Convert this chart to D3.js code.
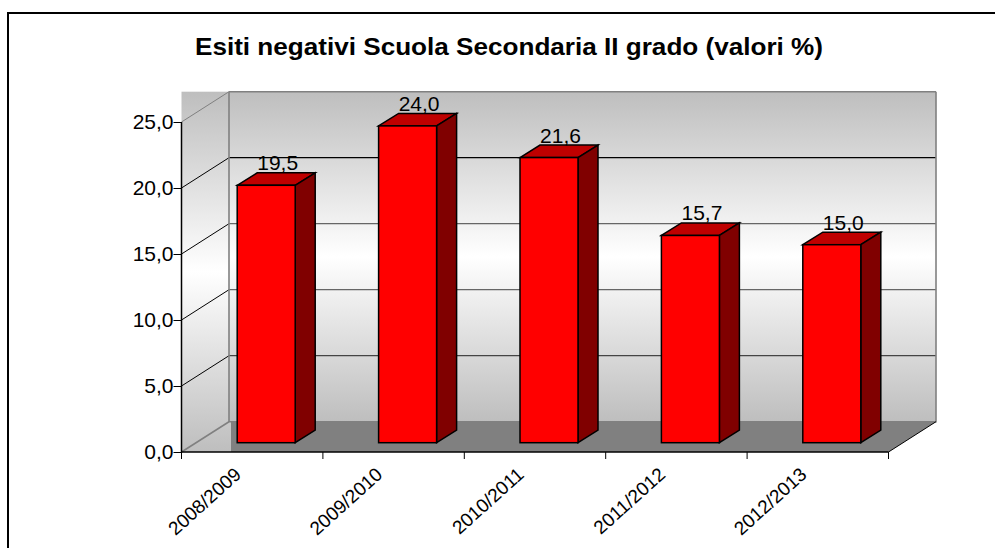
<!DOCTYPE html>
<html><head><meta charset="utf-8"><style>html,body{margin:0;background:#fff}svg{display:block}text{font-family:"Liberation Sans",Arial,sans-serif;fill:#000}</style>
<script src="https://cdn.jsdelivr.net/npm/d3@7"></script></head><body><script>
const title = "Esiti negativi Scuola Secondaria II grado (valori %)";
const categories = ["2008/2009","2009/2010","2010/2011","2011/2012","2012/2013"];
const values = [19.5,24.0,21.6,15.7,15.0];
const yTicks = [0,5,10,15,20,25];
const W=995,H=548;
const x0=181.5,x1=888.5,y0=452,y25=122,dx=47.5,dy=30.3;
const gridColor={5:"#444",10:"#666",15:"#666",20:"#000",25:"#808080"};
const fmt=v=>d3.format(".1f")(v).replace(".",",");
const svg=d3.select("body").append("svg").attr("width",W).attr("height",H);
const defs=svg.append("defs");
const grad=defs.append("linearGradient").attr("id","wall").attr("x1",0).attr("y1",0).attr("x2",0).attr("y2",1);
[[0,"#bebebe"],[.5,"#ffffff"],[1,"#bebebe"]].forEach(s=>grad.append("stop").attr("offset",s[0]).attr("stop-color",s[1]));
const x=d3.scaleBand().domain(categories).range([x0,x1]);
const y=d3.scaleLinear().domain([0,25]).range([y0,y25]);
svg.append("path").attr("d",`M8,${H}V13H${W}`).attr("fill","none").attr("stroke","#000").attr("stroke-width",2);
svg.append("text").attr("x",509).attr("y",55).attr("text-anchor","middle").attr("font-weight","bold").attr("font-size",24).attr("textLength",628).attr("lengthAdjust","spacingAndGlyphs").text(title);
// walls
svg.append("rect").attr("x",x0).attr("y",y(25)-dy).attr("width",dx+2).attr("height",y0-y(25)+dy).attr("fill","url(#wall)");
svg.append("rect").attr("x",x0+dx).attr("y",y(25)-dy).attr("width",x1-x0).attr("height",y0-y(25)).attr("fill","url(#wall)");
// floor
svg.append("path").attr("d",`M${x0+dx+2},${y0}V${y0-dy}H${x1+dx}L${x1},${y0}Z`).attr("fill","#808080");
// gridlines
yTicks.slice(1).forEach(t=>{
 svg.append("path").attr("d",`M${x0},${y(t)}L${x0+dx},${y(t)-dy}`).attr("fill","none").attr("stroke",t==25?"#808080":"#000").attr("stroke-width",1);
 svg.append("line").attr("x1",x0+dx).attr("x2",x1+dx).attr("y1",y(t)-dy).attr("y2",y(t)-dy).attr("stroke",gridColor[t]).attr("stroke-width",t==25?1.5:1.2);
});
svg.append("path").attr("d",`M${x0},${y0}L${x0+dx},${y0-dy}V${y(25)-dy}M${x0+dx},${y0-dy}H${x1+dx}V${y(25)-dy}`).attr("fill","none").attr("stroke","#808080").attr("stroke-width",1.6);
svg.append("line").attr("x1",x1).attr("x2",x1+dx).attr("y1",y0).attr("y2",y0-dy).attr("stroke","#000");
// axes
const yAxis=d3.axisLeft(y).tickValues(yTicks).tickFormat(fmt).tickSize(8).tickPadding(0);
const ga=svg.append("g").attr("transform",`translate(${x0},0)`).call(yAxis);
ga.selectAll("text").attr("font-size",21).attr("font-family",null);
ga.select(".domain").attr("d",`M0,${y25}V${y0}`).attr("stroke","#000").attr("stroke-width",1.5);
const xAxis=d3.axisBottom(x).tickSize(0).tickFormat("");
const gx=svg.append("g").attr("transform",`translate(0,${y0})`).call(xAxis);
gx.select(".domain").attr("d",`M${x0},0H${x1}`).attr("stroke","#000").attr("stroke-width",1.5);
const step=x.step();
[0,1,2,3,4,5].forEach(i=>gx.append("line").attr("x1",x0+i*step).attr("x2",x0+i*step).attr("y1",0).attr("y2",7).attr("stroke","#000"));
categories.forEach(c=>{
 svg.append("text").attr("transform",`translate(${x(c)+step/2-19},${y0+14}) rotate(-42)`).attr("text-anchor","end").attr("dominant-baseline","hanging").attr("font-size",19).text(c);
});
// bars
const bw=58,off=(step-bw)/2+14,bz=9.3,bdx=20,bdy=12.5;
categories.forEach((c,i)=>{
 const l=x(c)+off,r=l+bw,b=y0-bz,t=b-(y0-y(values[i]));
 const g=svg.append("g").attr("stroke","#000").attr("stroke-width",1.5).attr("stroke-linejoin","miter");
 g.append("path").attr("d",`M${l},${t}L${l+bdx},${t-bdy}H${r+bdx}L${r},${t}Z`).attr("fill","#bf0000");
 g.append("path").attr("d",`M${r},${t}L${r+bdx},${t-bdy}V${b-bdy}L${r},${b}Z`).attr("fill","#800000");
 g.append("rect").attr("x",l).attr("y",t).attr("width",bw).attr("height",b-t).attr("fill","#ff0000");
 svg.append("text").attr("x",l+bdx+20.5).attr("y",t-bdy-2.5).attr("text-anchor","middle").attr("font-size",21).text(fmt(values[i]));
});
</script></body></html>
